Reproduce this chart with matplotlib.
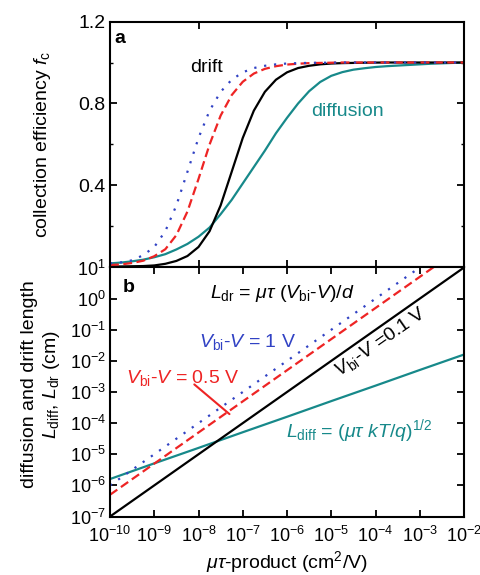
import numpy as np
import matplotlib
matplotlib.use("Agg")
import matplotlib.pyplot as plt
from matplotlib.ticker import LogLocator, FixedLocator

plt.rcParams['font.family'] = ['Liberation Sans', 'DejaVu Sans']
plt.rcParams['mathtext.fontset'] = 'custom'
plt.rcParams['mathtext.rm'] = 'Liberation Sans'
plt.rcParams['mathtext.it'] = 'Liberation Sans:italic'
plt.rcParams['mathtext.bf'] = 'Liberation Sans:bold'

# panel a: collection efficiency vs mu-tau (quarter decades from 1e-10 to 1e-2)
log_mt = [-10, -9.75, -9.5, -9.25, -9, -8.75, -8.5, -8.25, -8, -7.75, -7.5,
          -7.25, -7, -6.75, -6.5, -6.25, -6, -5.75, -5.5, -5.25, -5, -4.75,
          -4.5, -4.25, -4, -3.75, -3.5, -3.25, -3, -2.75, -2.5, -2.25, -2]
fc_1V = [0.02, 0.025, 0.035, 0.06, 0.10, 0.177, 0.303, 0.467, 0.632, 0.765,
         0.857, 0.916, 0.952, 0.973, 0.984, 0.991, 0.995, 0.997, 0.998, 0.999,
         0.999, 1.0, 1.0, 1.0, 1.0, 1.0, 1.0, 1.0, 1.0, 1.0, 1.0, 1.0, 1.0]
fc_05V = [0.012, 0.015, 0.022, 0.033, 0.055, 0.089, 0.158, 0.273, 0.432,
          0.600, 0.741, 0.841, 0.906, 0.946, 0.969, 0.982, 0.990, 0.994,
          0.997, 0.998, 0.999, 1.0, 1.0, 1.0, 1.0, 1.0, 1.0, 1.0, 1.0, 1.0,
          1.0, 1.0, 1.0]
fc_01V = [0.005, 0.005, 0.006, 0.007, 0.01, 0.018, 0.032, 0.056, 0.10, 0.177,
          0.303, 0.467, 0.632, 0.765, 0.857, 0.916, 0.952, 0.973, 0.984,
          0.991, 0.995, 0.997, 0.998, 0.999, 0.9995, 1.0, 1.0, 1.0, 1.0, 1.0,
          1.0, 1.0, 1.0]
fc_diff = [0.02, 0.024, 0.03, 0.038, 0.05, 0.065, 0.088, 0.115, 0.15, 0.195,
           0.26, 0.33, 0.41, 0.49, 0.57, 0.655, 0.73, 0.80, 0.86, 0.905,
           0.935, 0.953, 0.965, 0.972, 0.978, 0.982, 0.985, 0.988, 0.991,
           0.994, 0.996, 0.998, 0.999]

# panel b: lengths (cm) at each decade
mt_dec = [1e-10, 1e-9, 1e-8, 1e-7, 1e-6, 1e-5, 1e-4, 1e-3, 1e-2]
L_1V = [1e-6, 1e-5, 1e-4, 1e-3, 1e-2, 1e-1, 1e0, 1e1, 1e2]
L_05V = [5e-7, 5e-6, 5e-5, 5e-4, 5e-3, 5e-2, 5e-1, 5e0, 5e1]
L_01V = [1e-7, 1e-6, 1e-5, 1e-4, 1e-3, 1e-2, 1e-1, 1e0, 1e1]
L_diff = [1.6e-6, 5.1e-6, 1.6e-5, 5.1e-5, 1.6e-4, 5.1e-4, 1.6e-3, 5.1e-3, 1.6e-2]

blue = '#3142c4'
red = '#ee2424'
teal = '#17898a'
lw = 1.6
fs = 14

mt = 10.0 ** np.array(log_mt)

fig = plt.figure(figsize=(4.81, 5.75), dpi=100)
ax1 = fig.add_axes([0.2287, 0.5348, 0.736, 0.4278])
ax2 = fig.add_axes([0.2287, 0.1017, 0.736, 0.4331])

ax1.plot(mt, fc_diff, color=teal, lw=lw)
ax1.plot(mt, fc_01V, color='black', lw=lw)
ax1.plot(mt, fc_05V, color=red, lw=lw, linestyle=(0, (4, 2)))
ax1.plot(mt, fc_1V, color=blue, lw=lw, linestyle=(0, (1, 3.5)))
ax1.set_xscale('log')
ax1.set_xlim(1e-10, 1e-2)
ax1.set_ylim(0, 1.2)
ax1.set_yticks([0, 0.4, 0.8, 1.2])
ax1.set_yticklabels(['', '0.4', '0.8', '1.2'])
ax1.yaxis.set_minor_locator(FixedLocator([0.2, 0.6, 1.0]))
ax1.tick_params(labelbottom=False)
ax1.set_ylabel(r'collection efficiency $f_{\rm c}$', fontsize=fs)
ax1.yaxis.set_label_coords(-0.16, 0.5)
ax1.text(10**-9.77, 1.115, 'a', fontsize=fs, fontweight='bold', ha='center', va='center')
ax1.text(10**-7.83, 0.978, 'drift', fontsize=fs, ha='center', va='center')
ax1.text(10**-4.64, 0.759, 'diffusion', fontsize=fs, color=teal, ha='center', va='center')

ax2.plot(mt_dec, L_diff, color=teal, lw=lw)
ax2.plot(mt_dec, L_01V, color='black', lw=lw)
ax2.plot(mt_dec, L_05V, color=red, lw=lw, linestyle=(0, (4, 2)))
ax2.plot(mt_dec, L_1V, color=blue, lw=lw, linestyle=(0, (1, 3.5)))
ax2.set_xscale('log')
ax2.set_yscale('log')
ax2.set_xlim(1e-10, 1e-2)
ax2.set_ylim(1e-7, 1e1)
ax2.xaxis.set_major_locator(LogLocator(base=10, numticks=20))
ax2.yaxis.set_major_locator(LogLocator(base=10, numticks=20))
ax2.set_xlabel(r'$\mu\tau$-product (cm$^2$/V)', fontsize=fs, labelpad=2)
ax2.set_ylabel('diffusion and drift length\n' + r'$L_{\rm diff}$, $L_{\rm dr}$ (cm)',
               fontsize=fs, linespacing=1.2)
ax2.yaxis.set_label_coords(-0.135, 0.53)

ax2.text(10**-9.59, 10**0.373, 'b', fontsize=fs, fontweight='bold', ha='center', va='center')
ax2.text(10**-6.11, 10**0.019, r'$L_{\rm dr}$ = $\mu\tau$ ($V_{\rm bi}$-$V$)/$d$',
         fontsize=fs, ha='center', va='baseline')
ax2.text(10**-6.90, 10**-1.566, r'$V_{\rm bi}$-$V$ = 1 V', fontsize=fs, color=blue,
         ha='center', va='baseline')
ax2.text(10**-8.35, 10**-2.72, r'$V_{\rm bi}$-$V$ = 0.5 V', fontsize=fs, color=red,
         ha='center', va='baseline')
ax2.text(10**-3.88, 10**-1.395, r'$V_{\rm bi}$-$V$ =0.1 V', fontsize=fs, color='black',
         ha='center', va='center', rotation=35, rotation_mode='anchor')
ax2.text(10**-4.37, 10**-4.44, r'$L_{\rm diff}$ = ($\mu\tau$ $kT/q$)$^{1/2}$',
         fontsize=fs, color=teal, ha='center', va='baseline')
ax2.annotate('', xy=(10**-7.30, 10**-3.71), xytext=(10**-8.095, 10**-2.756),
             arrowprops=dict(arrowstyle='-', color=red, lw=1.5, shrinkA=0, shrinkB=0))

for ax in (ax1, ax2):
    for s in ax.spines.values():
        s.set_linewidth(1.5)
    ax.tick_params(which='both', direction='in', top=True, right=True,
                   labelsize=fs, pad=3)
    ax.tick_params(which='major', length=5, width=1.3)
    ax.tick_params(which='minor', length=2.5, width=1.0)
ax2.tick_params(axis='both', labelsize=13)
ax2.tick_params(axis='x', pad=7)

fig.savefig('out.png', dpi=100)
